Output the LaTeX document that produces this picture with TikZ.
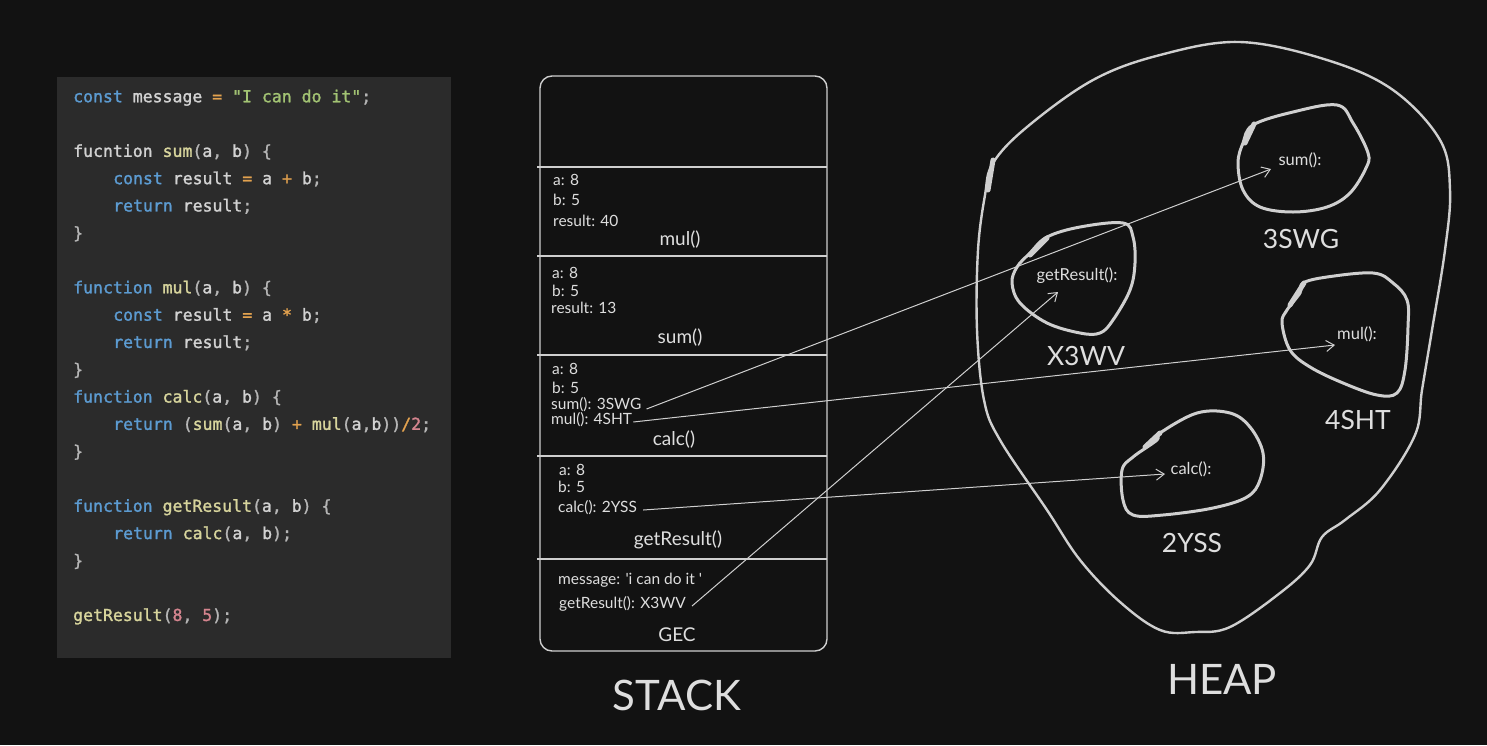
\documentclass[tikz,border=0pt]{standalone}
\usepackage{fontspec}
\setmainfont{Lato}[Ligatures=TeXOff]
\setmonofont{DejaVu Sans Mono}[BoldFont=DejaVu Sans Mono, BoldFeatures={FakeBold=1.5}]
\usetikzlibrary{arrows.meta}
\definecolor{bg}{HTML}{121212}
\definecolor{panel}{HTML}{2B2B2B}
\definecolor{kw}{HTML}{5C9BD1}
\definecolor{fn}{HTML}{D7D49C}
\definecolor{strg}{HTML}{A2C373}
\definecolor{opr}{HTML}{E3A24F}
\definecolor{numc}{HTML}{D4848E}
\definecolor{pun}{HTML}{B5B5B5}
\definecolor{idc}{HTML}{D2D2D2}
\definecolor{ink}{HTML}{DEDEDE}
\definecolor{linec}{HTML}{CFCFCF}
\newcommand\CKw[1]{\textcolor{kw}{#1}}
\newcommand\CFn[1]{\textcolor{fn}{#1}}
\newcommand\CSt[1]{\textcolor{strg}{#1}}
\newcommand\COp[1]{\textcolor{opr}{#1}}
\newcommand\CNm[1]{\textcolor{numc}{#1}}
\newcommand\CPn[1]{\textcolor{pun}{#1}}
\tikzset{
  codeline/.style={anchor=west, inner sep=0pt, text=idc, text height=12pt, text depth=3.5pt,
    font=\ttfamily\bfseries\fontsize{16.5}{18}\selectfont},
  var/.style={anchor=west, inner sep=0pt, text=ink, text height=0.72em, text depth=0.2em,
    font=\fontsize{15.5}{17}\selectfont},
  frame/.style={inner sep=0pt, text=ink, font=\fontsize{19}{21}\selectfont},
  hlabel/.style={inner sep=0pt, text=ink, font=\fontsize{16.5}{18}\selectfont},
  addr/.style={inner sep=0pt, text=ink, font=\fontsize{26.5}{29}\selectfont},
  title/.style={inner sep=0pt, text=ink, font=\fontsize{42}{46}\selectfont},
  stackline/.style={draw=linec, line width=1.4pt},
  blob/.style={draw=linec, line width=3pt, line join=round},
  outerblob/.style={draw=linec, line width=2.4pt, line join=round},
  thickdot/.style={draw=linec, line width=5pt, line cap=round},
  arr/.style={draw=linec, line width=1pt, -{Straight Barb[length=8pt,width=11pt]}},
}
\begin{document}
\begin{tikzpicture}[x=1pt,y=-1pt]
\fill[bg] (0,0) rectangle (1487,745);
\useasboundingbox (0,0) rectangle (1487,745);

% ---------------- code panel ----------------
\fill[panel] (57,77) rectangle (451,658);
\node[codeline] (c0)  at (73,98)    {\CKw{const} message \COp{=} \CSt{"I can do it"}\CPn{;}};
\node[codeline] (c2)  at (73,152.6) {fucntion \CFn{sum}\CPn{(}a\CPn{,} b\CPn{)} \CPn{\{}};
\node[codeline] (c3)  at (113,179.9){\CKw{const} result \COp{=} a \COp{+} b\CPn{;}};
\node[codeline] (c4)  at (113,207.2){\CKw{return} result\CPn{;}};
\node[codeline] (c5)  at (73,234.5) {\CPn{\}}};
\node[codeline] (c7)  at (73,289.1) {\CKw{function} \CFn{mul}\CPn{(}a\CPn{,} b\CPn{)} \CPn{\{}};
\node[codeline] (c8)  at (113,316.4){\CKw{const} result \COp{=} a \COp{*} b\CPn{;}};
\node[codeline] (c9)  at (113,343.7){\CKw{return} result\CPn{;}};
\node[codeline] (c10) at (73,371)   {\CPn{\}}};
\node[codeline] (c11) at (73,398.3) {\CKw{function} \CFn{calc}\CPn{(}a\CPn{,} b\CPn{)} \CPn{\{}};
\node[codeline] (c12) at (113,425.6){\CKw{return} \CPn{(}\CFn{sum}\CPn{(}a\CPn{,} b\CPn{)} \COp{+} \CFn{mul}\CPn{(}a\CPn{,}b\CPn{))}\COp{/}\CNm{2}\CPn{;}};
\node[codeline] (c13) at (73,452.9) {\CPn{\}}};
\node[codeline] (c15) at (73,507.5) {\CKw{function} \CFn{getResult}\CPn{(}a\CPn{,} b\CPn{)} \CPn{\{}};
\node[codeline] (c16) at (113,534.8){\CKw{return} \CFn{calc}\CPn{(}a\CPn{,} b\CPn{);}};
\node[codeline] (c17) at (73,562.1) {\CPn{\}}};
\node[codeline] (c19) at (73,616.7) {\CFn{getResult}\CPn{(}\CNm{8}\CPn{,} \CNm{5}\CPn{);}};

% ---------------- stack ----------------
\draw[stackline, rounded corners=12pt] (540,76) rectangle (827,651);
\foreach \yy in {167,256,355,456,559} \draw[stackline] (537,\yy) -- (827,\yy);

% mul() frame
\node[var] (m1) at (553,183) {a: 8};
\node[var] (m2) at (553,203) {b: 5};
\node[var] (m3) at (553,224) {result: 40};
\node[frame] (mulf) at (680,240) {mul()};
% sum() frame
\node[var] (s1) at (552,276) {a: 8};
\node[var] (s2) at (552,294) {b: 5};
\node[var] (s3) at (551,311) {result: 13};
\node[frame] (sumf) at (680,338) {sum()};
% calc() frame
\node[var] (k1) at (552,372) {a: 8};
\node[var] (k2) at (552,391) {b: 5};
\node[var] (ksum) at (551,407) {sum(): 3SWG};
\node[var] (kmul) at (551,422) {mul(): 4SHT};
\node[frame] (calcf) at (674,440) {calc()};
% getResult() frame
\node[var] (g1) at (559,473) {a: 8};
\node[var] (g2) at (558,490) {b: 5};
\node[var] (gcalc) at (558,510) {calc(): 2YSS};
\node[frame] (getf) at (678,540) {getResult()};
% GEC
\node[var] (gmsg) at (558,582) {message: 'i can do it '};
\node[var] (ggr) at (559,606) {getResult(): X3WV};
\node[frame] (gec) at (677,635) {GEC};

\node[title] (stack) at (677,695) {STACK};

% ---------------- heap ----------------
\draw[outerblob] plot[smooth cycle, tension=0.6] coordinates {
 (993,163) (1027,127) (1093,80) (1160,55) (1240,42) (1327,60) (1393,90) (1440,140)
 (1450,190) (1445,250) (1432,330) (1422,390) (1415,435) (1380,490) (1345,520)
 (1322,537) (1310,565) (1280,593) (1230,627) (1195,632) (1160,630) (1120,602)
 (1080,560) (1047,510) (1000,440) (984,400) (977,330) (978,250) (985,195)};
\draw[thickdot] (993,160) -- (988,190);

% sum blob (3SWG)
\draw[blob] plot[smooth cycle, tension=0.6] coordinates {
 (1253,125) (1293,112) (1337,105) (1353,123) (1368,153) (1366,168) (1350,193)
 (1327,207) (1293,212) (1260,207) (1243,190) (1238,163) (1243,143)};
\draw[thickdot] (1254,124) -- (1245,143);
% getResult blob (X3WV)
\draw[blob] plot[smooth cycle, tension=0.6] coordinates {
 (1047,237) (1080,227) (1123,223) (1133,237) (1135,263) (1130,290) (1113,320)
 (1100,333) (1080,333) (1047,323) (1020,303) (1012,283) (1017,267) (1030,253)};
\draw[thickdot] (1047,238) -- (1030,255);
% mul blob (4SHT)
\draw[blob] plot[smooth cycle, tension=0.6] coordinates {
 (1303,283) (1327,277) (1373,273) (1393,283) (1407,300) (1408,327) (1405,370)
 (1397,393) (1377,395) (1343,383) (1310,367) (1290,350) (1282,323) (1287,310) (1300,293)};
\draw[thickdot] (1304,283) -- (1290,305);
% calc blob (2YSS)
\draw[blob] plot[smooth cycle, tension=0.6] coordinates {
 (1160,433) (1197,413) (1230,413) (1250,427) (1263,453) (1260,480) (1247,497)
 (1213,508) (1163,515) (1133,515) (1123,500) (1122,470) (1133,457) (1157,440)};
\draw[thickdot] (1160,433) -- (1145,447);

\node[hlabel] (hsum) at (1300,160) {sum():};
\node[hlabel] (hget) at (1077,276) {getResult():};
\node[hlabel] (hmul) at (1357,334) {mul():};
\node[hlabel] (hcalc) at (1191,469) {calc():};

\node[addr] (a3swg) at (1301,239) {3SWG};
\node[addr] (ax3wv) at (1086,356) {X3WV};
\node[addr] (a4sht) at (1358,420) {4SHT};
\node[addr] (a2yss) at (1192,543) {2YSS};

\node[title] (heap) at (1222,679) {HEAP};

% ---------------- references ----------------
\coordinate (tsum) at (1271,169);
\coordinate (tmul) at (1335,345);
\coordinate (tcalc) at (1165,474);
\coordinate (tget) at (1058,292);
\draw[arr] ([xshift=5pt,yshift=-2pt]ksum.east) -- (tsum);
\draw[arr] ([xshift=1pt]kmul.east) -- (tmul);
\draw[arr] ([xshift=6pt]gcalc.east) -- (tcalc);
\draw[arr] ([xshift=6pt]ggr.east) -- (tget);
\end{tikzpicture}
\end{document}
